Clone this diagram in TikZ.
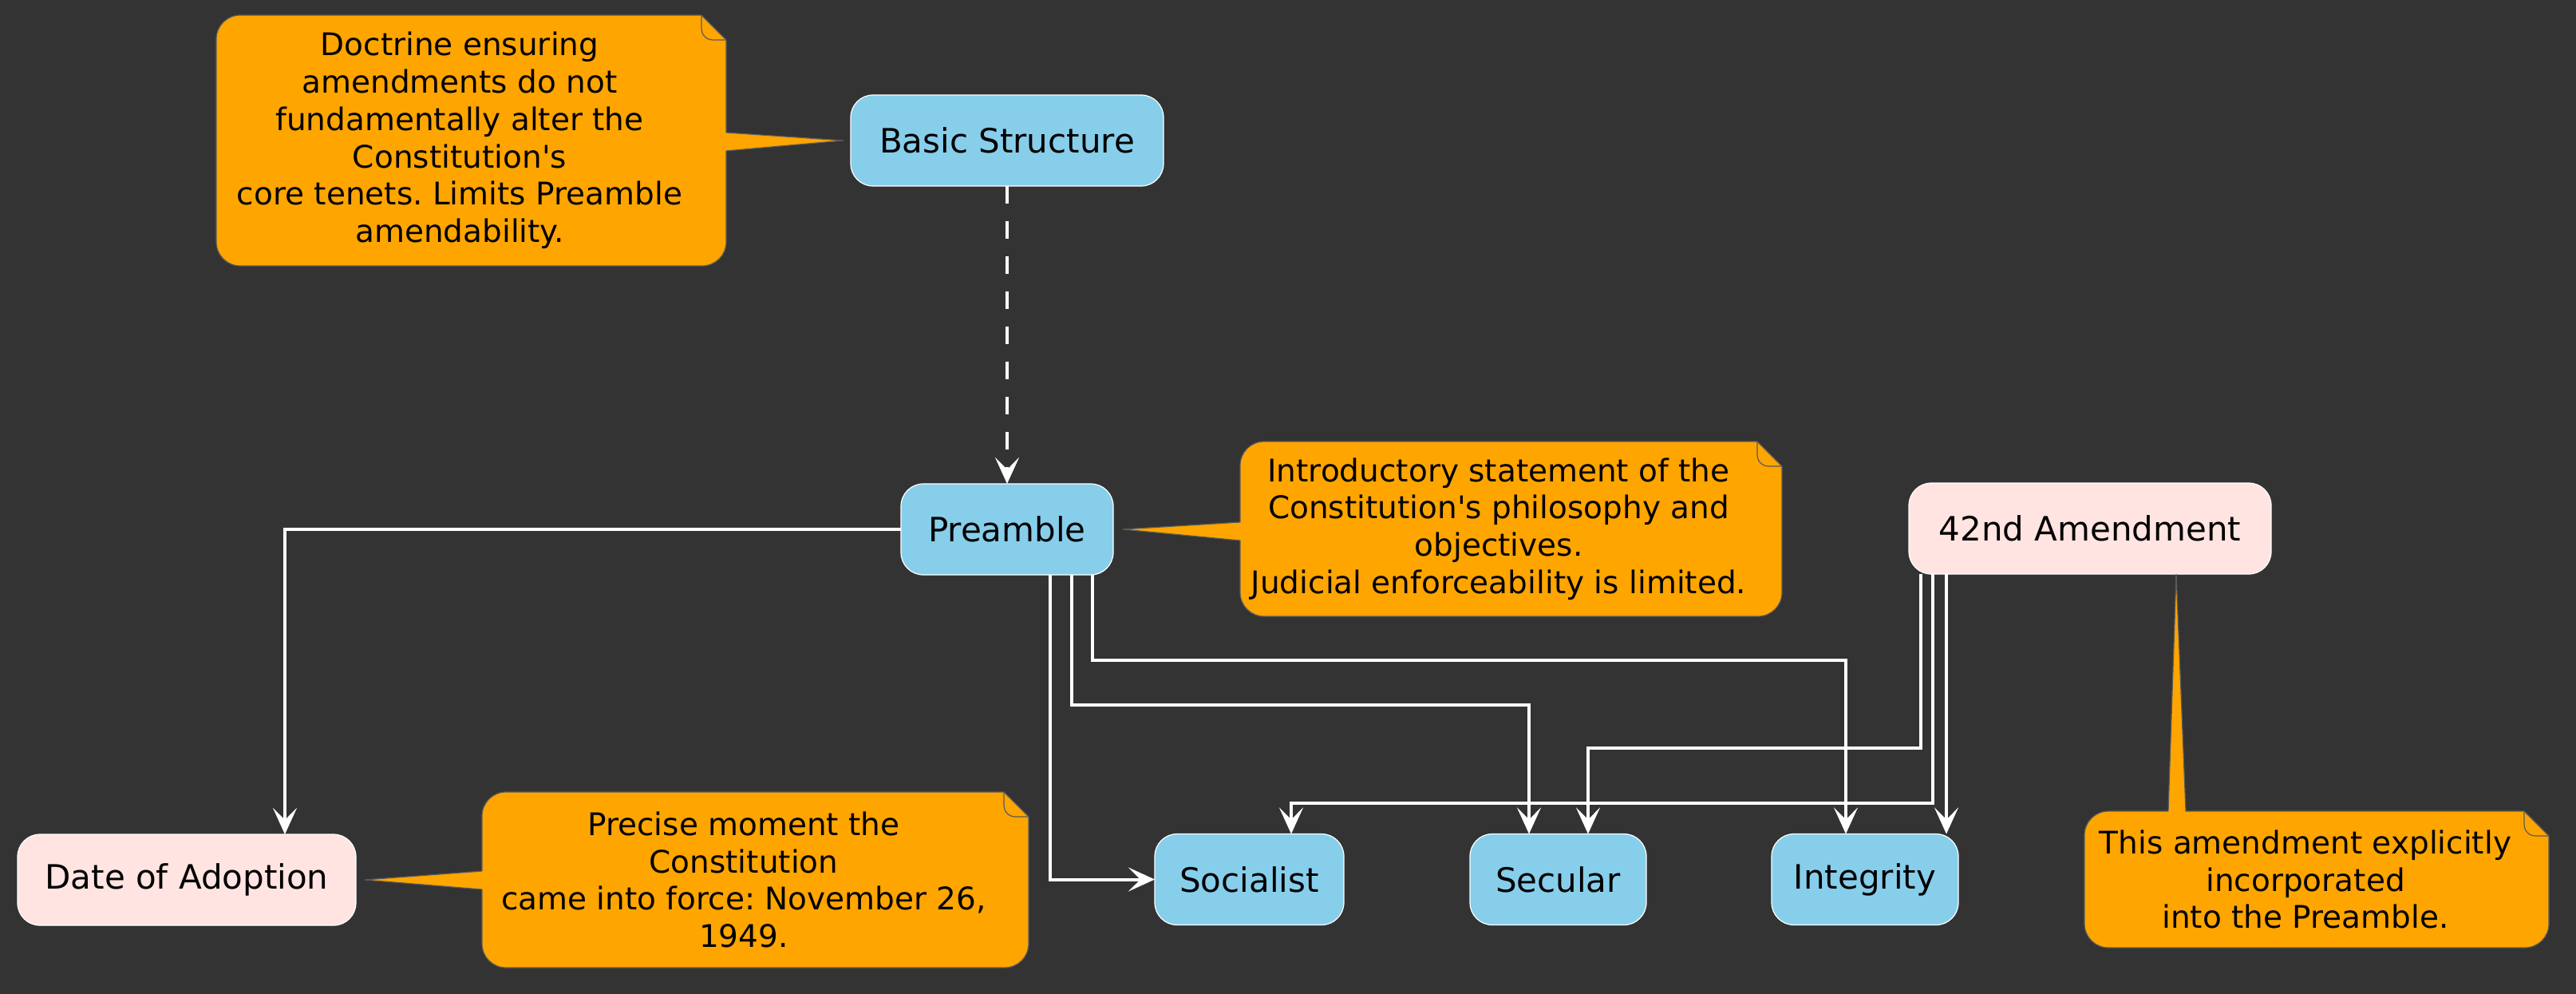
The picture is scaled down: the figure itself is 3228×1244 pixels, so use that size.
\documentclass[tikz,border=0pt]{standalone}
\usepackage{fontspec}
\setmainfont{DejaVu Sans}
\usetikzlibrary{arrows.meta}
\definecolor{bgc}{HTML}{333333}
\definecolor{skyb}{HTML}{87CEEB}
\definecolor{misty}{HTML}{FFE4E1}
\definecolor{noteor}{HTML}{FFA500}
\definecolor{noteline}{HTML}{5A5A5A}
\newcommand\nodefont{\fontsize{21}{25}\selectfont}
\newcommand\notefont{\fontsize{19.5}{23.4}\selectfont}
\newcommand\apos{\textquotesingle}
\newcommand\mynote[4]{%
  \filldraw[notebody] (#1+30,#2) -- (#3-31,#2) -- (#3,#2+31) -- (#3,#4-30)
    .. controls (#3,#4-13.4) and (#3-13.4,#4) .. (#3-30,#4) -- (#1+30,#4)
    .. controls (#1+13.4,#4) and (#1,#4-13.4) .. (#1,#4-30) -- (#1,#2+30)
    .. controls (#1,#2+13.4) and (#1+13.4,#2) .. (#1+30,#2) -- cycle;
  \draw[noteedge] (#3-31,#2) -- (#3-31,#2+16)
    .. controls (#3-31,#2+25) and (#3-25,#2+31) .. (#3-16,#2+31) -- (#3,#2+31);
}
\tikzset{
  box/.style={rectangle, rounded corners=14pt, draw=white, line width=0.6pt,
    minimum height=57pt, inner sep=0pt, outer sep=0pt, font=\nodefont, text=black},
  bluebox/.style={box, fill=skyb},
  pinkbox/.style={box, fill=misty},
  notebody/.style={fill=noteor, draw=noteline, line width=0.6pt},
  noteedge/.style={draw=noteline, line width=0.6pt},
  notetext/.style={align=center, font=\notefont, text=black, inner sep=0pt},
  arr/.style={draw=white, line width=2pt,
    -{Stealth[length=16.5pt,width=15pt,inset=7.5pt]}},
}
\begin{document}
\frenchspacing
\begin{tikzpicture}[x=0.5pt,y=-0.5pt]
\useasboundingbox (0,0) rectangle (3228,1244);
\fill[bgc] (-20,-20) rectangle (3248,1264);

% nodes
\node[bluebox, minimum width=196pt] (bs) at (1262,176) {Basic Structure};
\node[bluebox, minimum width=133pt] (pre) at (1262,663) {Preamble};
\node[pinkbox, minimum width=227pt] (am) at (2619,662) {42nd Amendment};
\node[pinkbox, minimum width=212pt] (date) at (234,1102) {Date of Adoption};
\node[bluebox, minimum width=118.5pt] (soc) at (1565.5,1101.5) {Socialist};
\node[bluebox, minimum width=110.5pt] (sec) at (1952.5,1101.5) {Secular};
\node[bluebox, minimum width=117pt] (int) at (2337,1101.5) {Integrity};

% notes
\mynote{271}{19}{910}{333}
\fill[noteor] (908,166) -- ([xshift=-4.5pt]bs.west) -- (908,189) -- cycle;
\draw[noteedge] (910,166) -- ([xshift=-4.5pt]bs.west) -- (910,189);
\node[notetext] (n1) at (576,176) {Doctrine ensuring\\amendments do not\\fundamentally alter the\\Constitution\apos s\\core tenets. Limits Preamble\\amendability.};

\mynote{1554}{553}{2233}{772}
\fill[noteor] (1556,654) -- ([xshift=6pt]pre.east) -- (1556,677) -- cycle;
\draw[noteedge] (1554,654) -- ([xshift=6pt]pre.east) -- (1554,677);
\node[notetext] (n2) at (1878,662.5) {Introductory statement of the\\Constitution\apos s philosophy and\\objectives.\\Judicial enforceability is limited.};

\mynote{604}{992}{1289}{1212}
\fill[noteor] (606,1091) -- ([xshift=5.5pt]date.east) -- (606,1114) -- cycle;
\draw[noteedge] (604,1091) -- ([xshift=5.5pt]date.east) -- (604,1114);
\node[notetext] (n3) at (932,1102) {Precise moment the\\Constitution\\came into force: November 26,\\1949.};

\mynote{2612}{1016}{3194}{1187}
\fill[noteor] (2717,1018) -- ([xshift=54pt]am.south) -- (2739,1018) -- cycle;
\draw[noteedge] (2717,1016) -- ([xshift=54pt]am.south) -- (2739,1016);
\node[notetext] (n4) at (2889,1101.5) {This amendment explicitly\\incorporated\\into the Preamble.};

% connectors
\draw[arr, dash pattern=on 11pt off 11pt] (bs.south) -- (pre.north);
\draw[arr] (pre.west) -| ([xshift=61.5pt]date.north);
\draw[arr] ([xshift=27pt]pre.south) |- (soc.west);
\draw[arr] ([xshift=40.5pt]pre.south) |- (1916,883) -- ([xshift=-18.25pt]sec.north);
\draw[arr] ([xshift=53.5pt]pre.south) |- (2313,827) -- ([xshift=-12pt]int.north);
\draw[arr] ([xshift=-106pt]am.south) |- (1990,937) -- ([xshift=18.75pt]sec.north);
\draw[arr] ([xshift=-98.5pt]am.south) |- (1618,1006) -- ([xshift=26.25pt]soc.north);
\draw[arr] ([xshift=-90pt]am.south) -- ([xshift=51pt]int.north);
\end{tikzpicture}
\end{document}
